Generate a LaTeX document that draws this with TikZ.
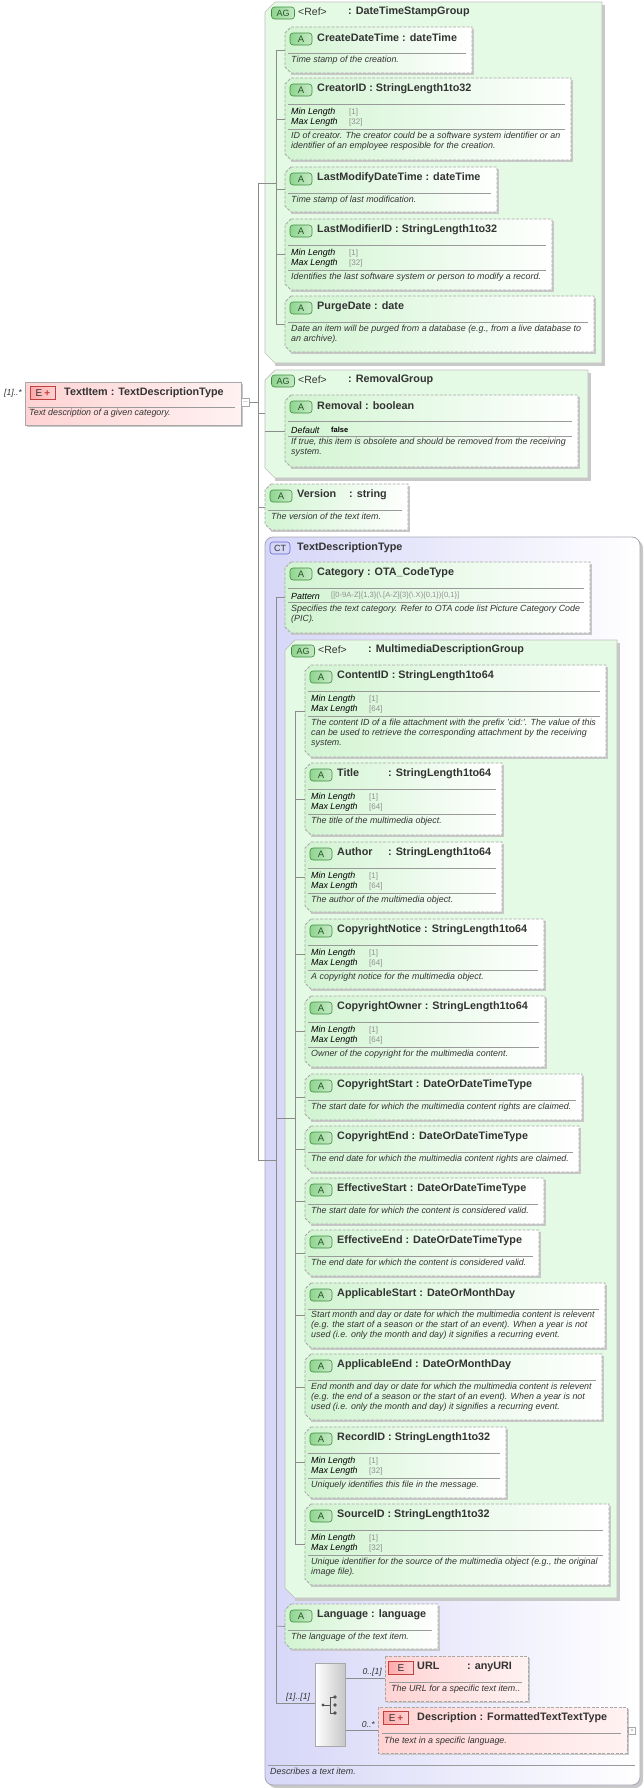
\documentclass[tikz,border=0pt]{standalone}
\usepackage{fontspec}
\setmainfont{Liberation Sans}
\definecolor{txt}{HTML}{333333}
\definecolor{bordg}{HTML}{A8A8A8}
\definecolor{attrL}{HTML}{D2F4D2}
\definecolor{agF}{HTML}{E4FAE4}
\definecolor{agB}{HTML}{C0C0C0}
\definecolor{shadc}{HTML}{C8C8C8}
\definecolor{sepc}{HTML}{9A9A9A}
\definecolor{connc}{HTML}{8C8C8C}
\definecolor{gA}{HTML}{3E8E3E}
\definecolor{gAf}{HTML}{8FD48F}
\definecolor{ctL}{HTML}{D6D6F8}
\definecolor{ctB}{HTML}{A8A8B8}
\definecolor{eL}{HTML}{FFD3D3}
\definecolor{eR}{HTML}{FFF2F2}
\definecolor{eB}{HTML}{C04040}
\definecolor{facv}{HTML}{909090}
\newcommand\attrbox[6]{%
 \fill[shadc] ({#2+6},{#3+2}) rectangle ({#4+2},{#5+2});
 \path[attrshape] ({#2+6},#3) -- (#4,#3) -- (#4,#5) -- ({#2+6},#5) -- (#2,{#5-6}) -- (#2,{#3+6}) -- cycle;
 \node[badgeA] (#1b) at ({#2+16},{#3+12}) {A};
 \node[hdr] (#1h) at ({#2+32},{#3+11}) {#6};
 \draw[sep] ({#2+3},{#3+26}) -- ({#4-6},{#3+26});
 \coordinate (#1) at (#2,{(#3+#5)/2});}
\newcommand\lenfac[5]{%
 \node[fac] (#1mn) at ({#2+6},{#4+34}) {Min Length};
 \node[facval] (#1mv) at ({#2+64},{#4+34}) {[1]};
 \node[fac] (#1xn) at ({#2+6},{#4+44}) {Max Length};
 \node[facval] (#1xv) at ({#2+64},{#4+44}) {[#5]};
 \draw[sep] ({#2+3},{#4+51}) -- ({#3-6},{#4+51});}
\newcommand\dsctext[4]{\node[dsc] (#1) at ({#2+6},{#3-5.5}) {#4};}
\newcommand\agbox[6]{%
 \fill[shadc] ({#2+10},{#3+3}) -- ({#4+3},{#3+3}) -- ({#4+3},{#5+3}) -- ({#2+10},{#5+3}) -- cycle;
 \path[agshape] ({#2+10},#3) -- (#4,#3) -- (#4,#5) -- ({#2+10},#5) -- (#2,{#5-10}) -- (#2,{#3+10}) -- cycle;
 \node[badgeAG] (#1b) at ({#2+18},{#3+11}) {AG};
 \node[hdr,font=\fontsize{10.5}{10}\selectfont] (#1r) at ({#2+33},{#3+10}) {<Ref>};
 \node[hdr] (#1h) at ({#2+83},{#3+10}) {: #6};}
\begin{document}
\begin{tikzpicture}[x=1pt,y=-1pt,
 attrshape/.style={draw=bordg,dash pattern=on 3pt off 1.5pt,line width=0.9pt,left color=attrL,right color=white},
 agshape/.style={draw=agB,line width=0.7pt,fill=agF},
 badgeA/.style={draw=gA,line width=0.6pt,rounded corners=3pt,left color=gAf,right color=gAf!50!white,minimum width=22pt,minimum height=12pt,inner sep=0pt,font=\fontsize{9.5}{9}\selectfont,text=gA!60!black},
 badgeAG/.style={badgeA,minimum width=23pt,font=\fontsize{9}{9}\selectfont},
 badgeE/.style={draw=eB,line width=0.6pt,left color=eL!80!red,right color=eL,minimum width=25pt,minimum height=13pt,inner sep=0pt,font=\fontsize{10}{9}\selectfont,text=txt},
 hdr/.style={font=\fontsize{10.8}{10}\selectfont\bfseries,text=txt,inner sep=0pt,anchor=west},
 dsc/.style={font=\fontsize{8.9}{10}\selectfont\itshape,text=txt,inner sep=0pt,anchor=north west,align=left},
 fac/.style={font=\fontsize{8.9}{10}\selectfont\itshape,text=black,inner sep=0pt,anchor=west},
 facval/.style={font=\fontsize{8}{10}\selectfont,text=facv,inner sep=0pt,anchor=west},
 mult/.style={font=\fontsize{8.6}{10}\selectfont\itshape,text=txt,inner sep=0pt},
 sep/.style={draw=sepc,line width=0.6pt},
 conn/.style={draw=connc,line width=0.7pt},
 ebox/.style={draw=bordg,dash pattern=on 3pt off 1.5pt,line width=0.9pt,left color=eL,right color=eR}]
\useasboundingbox (0,0) rectangle (644,1788);
\fill[white] (0,0) rectangle (644,1788);
% ===== TextItem =====
\fill[shadc] (27,384) rectangle (243,427);
\path[draw=bordg,line width=0.8pt,left color=eL,right color=eR] (25,382) rectangle (241,425);
\node[badgeE] (tib) at (43,393) {E\hspace{2pt}\textcolor{eB}{\bfseries +}};
\node[hdr] (tih) at (64,393) {TextItem : TextDescriptionType};
\draw[sep] (28,407) -- (235,407);
\dsctext{tid}{23}{414}{Text description of a given category.}
\node[mult,anchor=east] (timult) at (22,393) {[1]..*};
\node[draw=bordg,fill=white,minimum size=8pt,inner sep=0pt,font=\fontsize{7}{7}\selectfont,text=connc] (tic) at (245.5,402) {$-$};
\coordinate (root) at (258,402);
\draw[conn] (tic.east) -- (root);
\draw[conn] (258,183) -- (258,1160);
% ===== DateTimeStampGroup =====
\agbox{dts}{265}{2}{602}{363}{DateTimeStampGroup}
\draw[conn] (258,183) -- (276,183);
\draw[conn] (276,50) -- (276,324);
\attrbox{cdt}{285}{27}{472}{73}{CreateDateTime : dateTime}
\dsctext{cdtd}{285}{61}{Time stamp of the creation.}
\attrbox{cid}{285}{78}{571}{160}{CreatorID : StringLength1to32}
\lenfac{cid}{285}{571}{78}{32}
\dsctext{cidd}{285}{137}{ID of creator. The creator could be a software system identifier or an\\identifier of an employee resposible for the creation.}
\attrbox{lmd}{285}{167}{497}{212}{LastModifyDateTime : dateTime}
\dsctext{lmdd}{285}{201}{Time stamp of last modification.}
\attrbox{lmi}{285}{219}{552}{290}{LastModifierID : StringLength1to32}
\lenfac{lmi}{285}{552}{219}{32}
\dsctext{lmid}{285}{278}{Identifies the last software system or person to modify a record.}
\attrbox{pd}{285}{296}{594}{352}{PurgeDate : date}
\dsctext{pdd}{285}{330}{Date an item will be purged from a database (e.g., from a live database to\\an archive).}
\foreach \c in {cdt,cid,lmd,lmi,pd} \draw[conn] (276,0 |- \c) -- (\c);
% ===== RemovalGroup =====
\agbox{rmg}{265}{370}{588}{478}{RemovalGroup}
\draw[conn] (258,413) -- (265,413);
\attrbox{rm}{285}{395}{578}{467}{Removal : boolean}
\node[fac] (rmdn) at (291,430) {Default};
\node[facval,font=\fontsize{7.5}{10}\selectfont\bfseries,text=black] (rmdv) at (331,430) {false};
\draw[sep] (288,436) -- (572,436);
\dsctext{rmd}{285}{443}{If true, this item is obsolete and should be removed from the receiving\\system.}
\draw[conn] (265,431) -- (rm);
% ===== Version =====
\attrbox{ver}{265}{484}{408}{530}{\makebox[52pt][l]{Version}: string}
\dsctext{verd}{265}{518}{The version of the text item.}
\draw[conn] (258,507) -- (ver);
% ===== CT =====
\fill[shadc] (268,540) [rounded corners=8pt] rectangle (643,1788);
\path[draw=ctB,line width=0.8pt,left color=ctL,right color=white,rounded corners=8pt] (265,537) rectangle (640,1785);
\node[draw=ctB!60!blue,line width=0.6pt,rounded corners=3pt,fill=ctL,minimum width=20pt,minimum height=12pt,inner sep=0pt,font=\fontsize{9}{9}\selectfont,text=txt] (ctb) at (280,548) {CT};
\node[hdr] (cth) at (297,548) {TextDescriptionType};
\draw[sep] (268,1765) -- (635,1765);
\dsctext{ctd}{264}{1773}{Describes a text item.}
\draw[conn] (258,1160) -- (276,1160);
\draw[conn] (276,597) -- (276,1703);
% Category
\attrbox{cat}{285}{562}{590}{633}{Category : OTA\_CodeType}
\node[fac] (catpn) at (291,596) {Pattern};
\node[facval,font=\fontsize{7.6}{10}\selectfont] (catpv) at (331,596) {[[0-9A-Z]\{1,3\}(\textbackslash.[A-Z]\{3\}(\textbackslash.X)\{0,1\})\{0,1\}]};
\draw[sep] (288,602) -- (584,602);
\dsctext{catd}{285}{610}{Specifies the text category. Refer to OTA code list Picture Category Code\\(PIC).}
\draw[conn] (276,597) -- (285,597);
% MultimediaDescriptionGroup
\agbox{mdg}{285}{640}{617}{1598}{MultimediaDescriptionGroup}
\draw[conn] (276,1118) -- (295,1118);
\draw[conn] (295,711) -- (295,1545);
\attrbox{cnt}{305}{665}{606}{757}{ContentID : StringLength1to64}
\lenfac{cnt}{305}{606}{665}{64}
\dsctext{cntd}{305}{724}{The content ID of a file attachment with the prefix 'cid:'. The value of this\\can be used to retrieve the corresponding attachment by the receiving\\system.}
\attrbox{tit}{305}{763}{502}{835}{\makebox[51pt][l]{Title}: StringLength1to64}
\lenfac{tit}{305}{502}{763}{64}
\dsctext{titd}{305}{822}{The title of the multimedia object.}
\attrbox{aut}{305}{842}{502}{912}{\makebox[51pt][l]{Author}: StringLength1to64}
\lenfac{aut}{305}{502}{842}{64}
\dsctext{autd}{305}{901}{The author of the multimedia object.}
\attrbox{cpn}{305}{919}{544}{989}{CopyrightNotice : StringLength1to64}
\lenfac{cpn}{305}{544}{919}{64}
\dsctext{cpnd}{305}{978}{A copyright notice for the multimedia object.}
\attrbox{cpo}{305}{996}{545}{1067}{CopyrightOwner : StringLength1to64}
\lenfac{cpo}{305}{545}{996}{64}
\dsctext{cpod}{305}{1055}{Owner of the copyright for the multimedia content.}
\attrbox{cps}{305}{1074}{582}{1120}{CopyrightStart : DateOrDateTimeType}
\dsctext{cpsd}{305}{1108}{The start date for which the multimedia content rights are claimed.}
\attrbox{cpe}{305}{1126}{579}{1172}{CopyrightEnd : DateOrDateTimeType}
\dsctext{cped}{305}{1160}{The end date for which the multimedia content rights are claimed.}
\attrbox{efs}{305}{1178}{544}{1224}{EffectiveStart : DateOrDateTimeType}
\dsctext{efsd}{305}{1212}{The start date for which the content is considered valid.}
\attrbox{efe}{305}{1230}{539}{1276}{EffectiveEnd : DateOrDateTimeType}
\dsctext{efed}{305}{1264}{The end date for which the content is considered valid.}
\attrbox{aps}{305}{1283}{605}{1348}{ApplicableStart : DateOrMonthDay}
\dsctext{apsd}{305}{1316}{Start month and day or date for which the multimedia content is relevent\\(e.g. the start of a season or the start of an event). When a year is not\\used (i.e. only the month and day) it signifies a recurring event.}
\attrbox{ape}{305}{1354}{602}{1420}{ApplicableEnd : DateOrMonthDay}
\dsctext{aped}{305}{1388}{End month and day or date for which the multimedia content is relevent\\(e.g. the end of a season or the start of an event). When a year is not\\used (i.e. only the month and day) it signifies a recurring event.}
\attrbox{rec}{305}{1427}{506}{1498}{RecordID : StringLength1to32}
\lenfac{rec}{305}{506}{1427}{32}
\dsctext{recd}{305}{1486}{Uniquely identifies this file in the message.}
\attrbox{src}{305}{1504}{609}{1585}{SourceID : StringLength1to32}
\lenfac{src}{305}{609}{1504}{32}
\dsctext{srcd}{305}{1563}{Unique identifier for the source of the multimedia object (e.g., the original\\image file).}
\foreach \c in {cnt,tit,aut,cpn,cpo,cps,cpe,efs,efe,aps,ape,rec,src} \draw[conn] (295,0 |- \c) -- (\c);
% Language
\attrbox{lng}{285}{1604}{438}{1649}{Language : language}
\dsctext{lngd}{285}{1638}{The language of the text item.}
\draw[conn] (276,1626) -- (lng);
% Choice
\node[draw=bordg,line width=0.7pt,left color=white,right color=gray!45,minimum width=30pt,minimum height=83pt,inner sep=0pt,anchor=north west] (cho) at (315,1663) {};
\fill[connc!60!black] (323,1705) circle (1.6pt);
\draw[connc!60!black,line width=0.8pt] (323,1705) -- (330,1705) (330,1697) -- (330,1713) (330,1697) -- (334,1697) (330,1713) -- (334,1713);
\fill[connc!60!black] (335,1697) circle (1.8pt) (335,1705) circle (1.8pt) (335,1713) circle (1.8pt);
\draw[conn] (276,1703) -- (cho.west |- 0,1703);
\node[mult,anchor=south] (chm) at (298,1701) {[1]..[1]};
% URL
\fill[shadc] (387,1658) rectangle (530,1703);
\path[ebox] (385,1656) rectangle (528,1701);
\node[badgeE] (urlb) at (401,1668) {E};
\node[hdr] (urlh) at (417,1667) {\makebox[50pt][l]{URL}: anyURI};
\draw[sep] (389,1682) -- (522,1682);
\dsctext{urld}{385}{1690}{The URL for a specific text item..}
\coordinate (urlw) at (385,1678);
\draw[conn] (cho.east |- urlw) -- (urlw);
\node[mult,anchor=south east] (urlm) at (382,1676) {0..[1]};
% Description
\fill[shadc] (380,1709) rectangle (629,1755);
\path[ebox] (378,1707) rectangle (627,1753);
\node[badgeE] (dscb) at (396,1718) {E\hspace{2pt}\textcolor{eB}{\bfseries +}};
\node[hdr] (dsch) at (417,1718) {Description : FormattedTextTextType};
\draw[sep] (382,1733) -- (621,1733);
\dsctext{dscd}{378}{1742}{The text in a specific language.}
\coordinate (dscw) at (378,1730);
\draw[conn] (cho.east |- dscw) -- (dscw);
\node[mult,anchor=south east] (dscm) at (375,1728) {0..*};
\node[draw=bordg,fill=white,minimum size=7pt,inner sep=0pt,font=\fontsize{6}{6}\selectfont,text=connc] (dscp) at (632,1731) {+};
\end{tikzpicture}
\end{document}
